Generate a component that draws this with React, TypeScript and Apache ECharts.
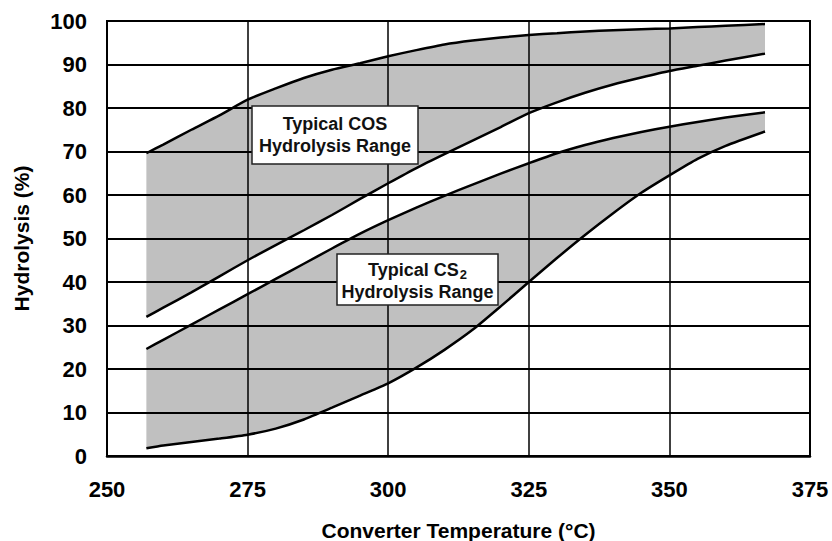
import React, { useEffect, useRef } from "react";
import * as echarts from "echarts";

const temps = [257, 260, 265, 270, 275, 280, 285, 290, 295, 300, 305, 310, 315, 320, 325, 330, 335, 340, 345, 350, 355, 360, 367];
const cosHigh = [69.6, 71.6, 75, 78.3, 81.9, 84.5, 86.9, 88.8, 90.3, 91.9, 93.3, 94.6, 95.5, 96.2, 96.8, 97.2, 97.6, 97.9, 98.1, 98.3, 98.6, 98.9, 99.3];
const cosLow = [32, 34.1, 37.6, 41.3, 45, 48.5, 51.9, 55.4, 59.1, 62.7, 66.2, 69.4, 72.5, 75.6, 78.8, 81.3, 83.5, 85.4, 87, 88.5, 89.7, 90.9, 92.5];
const cs2High = [24.6, 26.7, 30.2, 33.7, 37.2, 40.7, 44.2, 47.7, 51.1, 54.2, 57.1, 59.8, 62.4, 64.9, 67.3, 69.6, 71.5, 73.1, 74.5, 75.7, 76.8, 77.8, 79];
const cs2Low = [1.8, 2.4, 3.2, 4, 4.9, 6.3, 8.4, 11.1, 13.9, 16.7, 20.3, 24.4, 29, 34.4, 40, 45.5, 50.8, 55.8, 60.5, 64.5, 68.3, 71.3, 74.6];

const xMin = 250;
const xMax = 375;
const xStep = 25;
const yMin = 0;
const yMax = 100;
const yStep = 10;

const xTitle = "Converter Temperature (°C)";
const yTitle = "Hydrolysis (%)";

const FONT = "'Liberation Sans', Arial, Helvetica, sans-serif";

export default function App() {
  const ref = useRef<HTMLDivElement>(null);

  useEffect(() => {
    const chart = echarts.init(ref.current!, null, { renderer: "svg" });
    const pts = (ys: number[]) => temps.map((t, i) => [t, ys[i]]);
    const smooth = 0.2;

    const bandSeries = (hi: number[], lo: number[]) => ({
      type: "custom",
      silent: true,
      clip: true,
      z: 1,
      data: [[0]],
      renderItem: (_params: any, api: any) => {
        const top = temps.map((t, i) => api.coord([t, hi[i]]));
        const bottom = temps.map((t, i) => api.coord([t, lo[i]])).reverse();
        return {
          type: "polygon",
          shape: { points: top.concat(bottom) },
          style: { fill: "#c0c0c0", stroke: "none" },
        };
      },
    });

    const curve = (data: number[][]) => ({
      type: "line",
      data,
      symbol: "none",
      smooth,
      silent: true,
      lineStyle: { color: "#000", width: 2.5 },
      z: 5,
    });

    chart.setOption({
      animation: false,
      backgroundColor: "#fff",
      textStyle: { fontFamily: FONT },
      grid: {
        left: 107,
        right: 22,
        top: 21,
        bottom: 85,
        outerBoundsMode: "none",
        containLabel: false,
        show: true,
        borderColor: "#000",
        borderWidth: 2,
        backgroundColor: "transparent",
      },
      xAxis: {
        type: "value",
        min: xMin,
        max: xMax,
        interval: xStep,
        z: 3,
        name: xTitle,
        nameLocation: "middle",
        nameGap: 64,
        nameTextStyle: { fontSize: 21, fontWeight: "bold", color: "#000", fontFamily: FONT },
        axisLine: { show: true, lineStyle: { color: "#000", width: 2.5 } },
        axisTick: { show: false },
        axisLabel: { fontSize: 22, fontWeight: "bold", color: "#000", margin: 22, fontFamily: FONT },
        splitLine: { show: true, lineStyle: { color: "#000", width: 1.5 } },
      },
      yAxis: {
        type: "value",
        min: yMin,
        max: yMax,
        interval: yStep,
        z: 3,
        name: yTitle,
        nameLocation: "middle",
        nameGap: 75,
        nameTextStyle: { fontSize: 21, fontWeight: "bold", color: "#000", fontFamily: FONT },
        axisLine: { show: true, lineStyle: { color: "#000", width: 2 } },
        axisTick: { show: false },
        axisLabel: { fontSize: 22, fontWeight: "bold", color: "#000", margin: 20, fontFamily: FONT },
        splitLine: { show: true, lineStyle: { color: "#000", width: 2 } },
      },
      series: [
        bandSeries(cosHigh, cosLow),
        bandSeries(cs2High, cs2Low),
        curve(pts(cosHigh)),
        curve(pts(cosLow)),
        curve(pts(cs2High)),
        curve(pts(cs2Low)),
      ],
      graphic: [
        {
          type: "rect",
          z: 100,
          shape: { x: 252, y: 106, width: 166, height: 58 },
          style: { fill: "#fff", stroke: "#222", lineWidth: 1.5 },
        },
        {
          type: "text",
          z: 101,
          x: 335,
          y: 135,
          style: {
            text: "Typical COS\nHydrolysis Range",
            fontSize: 18,
            fontWeight: "bold",
            fontFamily: FONT,
            fill: "#111",
            align: "center",
            verticalAlign: "middle",
            lineHeight: 22,
          },
        },
        {
          type: "rect",
          z: 100,
          shape: { x: 337, y: 254, width: 161, height: 51 },
          style: { fill: "#fff", stroke: "#222", lineWidth: 1.5 },
        },
        {
          type: "text",
          z: 101,
          x: 417.5,
          y: 281,
          style: {
            text: "{a|Typical CS}{s|2}\n{a|Hydrolysis Range}",
            fontFamily: FONT,
            fill: "#111",
            align: "center",
            verticalAlign: "middle",
            rich: {
              a: { fontSize: 18, fontWeight: "bold", fontFamily: FONT, fill: "#111", lineHeight: 22 },
              s: { fontSize: 13, fontWeight: "bold", fontFamily: FONT, fill: "#111", lineHeight: 22, verticalAlign: "bottom", padding: [8, 0, 0, 1] },
            },
          },
        },
      ],
    });

    return () => chart.dispose();
  }, []);

  return (
    <div
      ref={ref}
      style={{ position: "fixed", left: 0, top: 0, width: 832, height: 541, background: "#fff" }}
    />
  );
}
